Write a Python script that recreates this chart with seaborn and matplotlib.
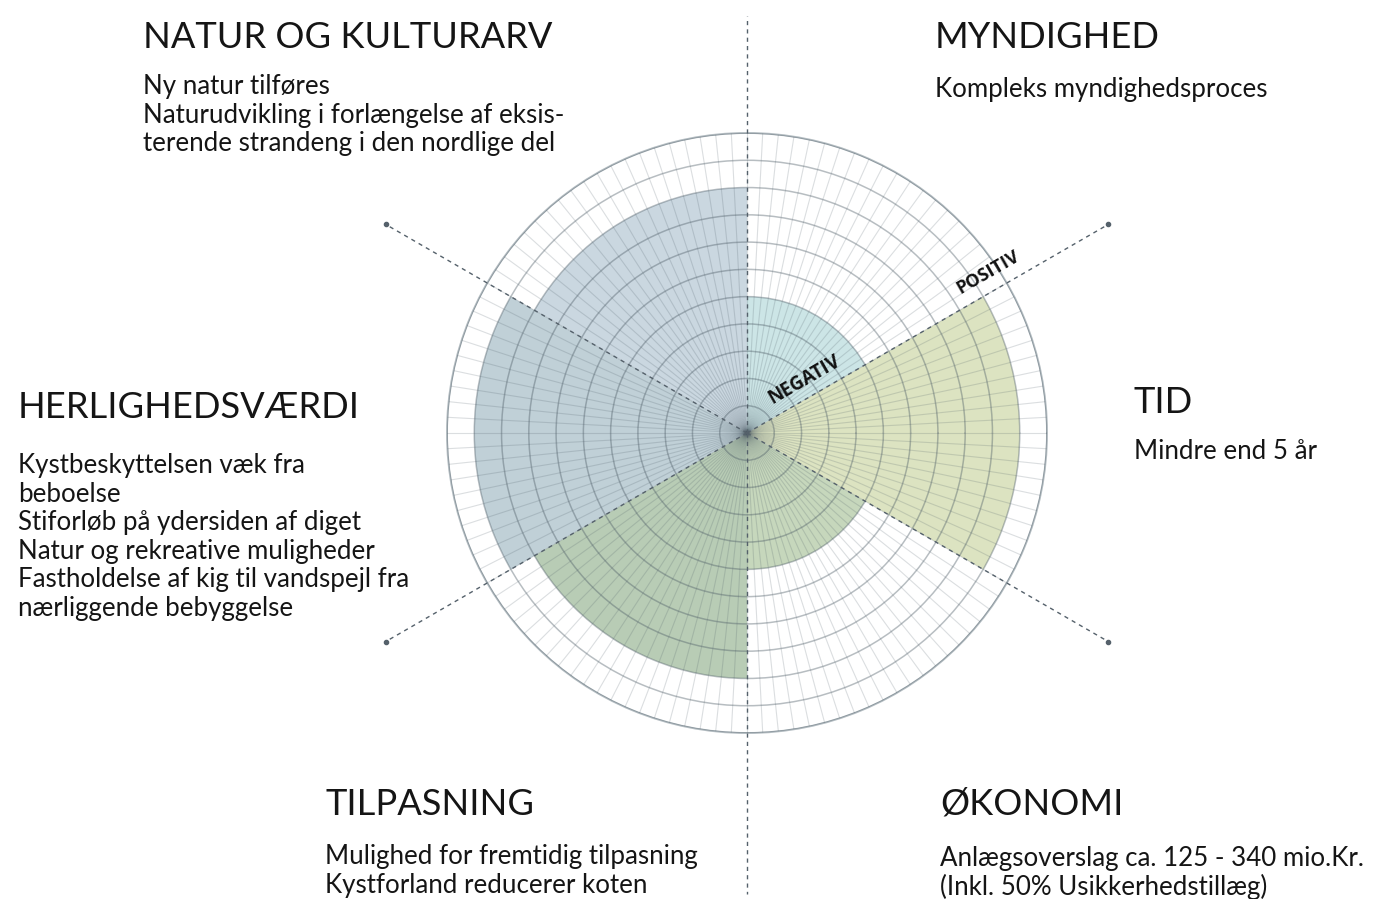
import numpy as np
import matplotlib
matplotlib.use("Agg")
import matplotlib.pyplot as plt
import seaborn as sns

# ---------------- data ----------------
categories = ["TID", "MYNDIGHED", "NATUR OG KULTURARV", "HERLIGHEDSVÆRDI", "TILPASNING", "ØKONOMI"]
angles_deg = [0, 60, 120, 180, 240, 300]
scores = [10, 5, 9, 10, 9, 5]
scale_max = 11
colors_hex = ["#dce3c1", "#cce5e6", "#cad7e0", "#c0d0d7", "#b8ccb5", "#c6d7bc"]

descriptions = [
    ["Mindre end 5 år"],
    ["Kompleks myndighedsproces"],
    ["Ny natur tilføres",
     "Naturudvikling i forlængelse af eksis-",
     "terende strandeng i den nordlige del"],
    ["Kystbeskyttelsen væk fra",
     "beboelse",
     "Stiforløb på ydersiden af diget",
     "Natur og rekreative muligheder",
     "Fastholdelse af kig til vandspejl fra",
     "nærliggende bebyggelse"],
    ["Mulighed for fremtidig tilpasning",
     "Kystforland reducerer koten"],
    ["Anlægsoverslag ca. 125 - 340 mio.Kr.",
     "(Inkl. 50% Usikkerhedstillæg)"],
]

# ---------------- style ----------------
sns.set_theme(style="white")
plt.rcParams["font.family"] = ["Lato", "DejaVu Sans"]
palette = sns.color_palette(colors_hex)

W, H = 1376, 899
fig = plt.figure(figsize=(W / 100, H / 100), dpi=100)
fig.patch.set_facecolor("white")

cx, cy, R = 747, 433, 300
ax = fig.add_axes([(cx - R) / W, (H - cy - R) / H, 2 * R / W, 2 * R / H], projection="polar")
ax.set_facecolor("white")

theta = np.deg2rad(angles_deg)
ax.bar(theta, scores, width=np.deg2rad(60), color=palette, edgecolor="none",
       align="center", zorder=1)

ax.set_ylim(0, scale_max)
ax.set_thetagrids(np.arange(0, 360, 3), labels=[])
ax.set_rgrids(np.arange(1, scale_max + 1), labels=[])
ax.xaxis.grid(True, color="#4d5c66", alpha=0.20, linewidth=0.8)
ax.yaxis.grid(True, color="#4d5c66", alpha=0.40, linewidth=1.1)
ax.set_axisbelow(False)
ax.spines["polar"].set_color("#b3bcc1")
ax.spines["polar"].set_linewidth(1.4)
ax.tick_params(pad=0, length=0)

# dividing dotted lines
line_col = "#55616b"
for a, r_end, dot in [(90, 15.3, False), (270, 16.9, False),
                      (30, 15.3, True), (210, 15.3, True),
                      (150, 15.3, True), (330, 15.3, True)]:
    t = np.deg2rad(a)
    ax.plot([t, t], [0, r_end], color=line_col, lw=1.0, ls=(0, (3, 3)),
            clip_on=False, zorder=5)
    if dot:
        ax.plot([t], [r_end], "o", color=line_col, ms=3, clip_on=False, zorder=5)

ax.text(np.deg2rad(33.8), 10.62, "POSITIV", rotation=30, rotation_mode="anchor",
        ha="center", va="center", fontsize=13, fontweight="bold", color="#111111",
        family=["Open Sans", "DejaVu Sans"], zorder=6)
ax.text(np.deg2rad(42.9), 2.86, "NEGATIV", rotation=30, rotation_mode="anchor",
        ha="center", va="center", fontsize=13.5, fontweight="bold", color="#111111",
        family=["Open Sans", "DejaVu Sans"], zorder=6)

# ---------------- labels ----------------
title_pos = {
    "TID": (1134, 413),
    "MYNDIGHED": (935, 48),
    "NATUR OG KULTURARV": (143, 48),
    "HERLIGHEDSVÆRDI": (18, 418),
    "TILPASNING": (325, 815),
    "ØKONOMI": (940, 815),
}
body_start = {
    "TID": (1134, 459),
    "MYNDIGHED": (935, 97),
    "NATUR OG KULTURARV": (143, 94),
    "HERLIGHEDSVÆRDI": (18, 473),
    "TILPASNING": (325, 864),
    "ØKONOMI": (940, 866),
}
line_step = 28.6
for cat, desc in zip(categories, descriptions):
    x, y = title_pos[cat]
    fig.text(x / W, 1 - y / H, cat, fontsize=26.1, color="#151515",
             ha="left", va="baseline", fontweight="normal")
    bx, by = body_start[cat]
    for i, line in enumerate(desc):
        fig.text(bx / W, 1 - (by + i * line_step) / H, line, fontsize=18.6,
                 color="#151515", ha="left", va="baseline")

fig.savefig("out.png", dpi=100, facecolor="white")
